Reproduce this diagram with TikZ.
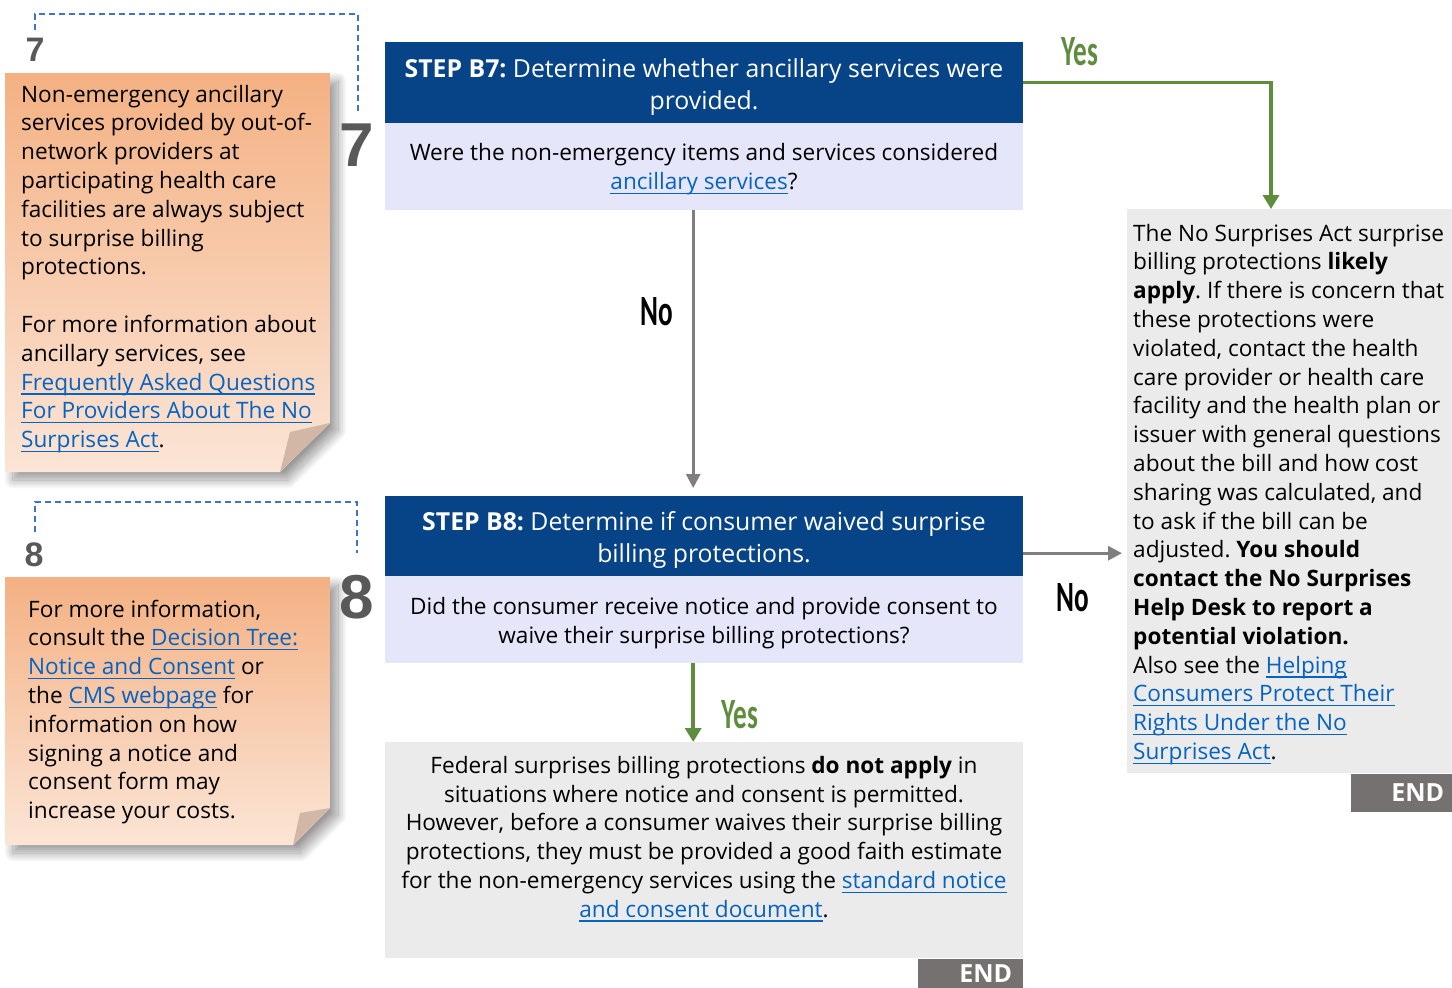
\documentclass[tikz,border=0pt]{standalone}
\usepackage{fontspec}
\setmainfont{Open Sans}
\newfontfamily\condfont{Carlito}
\newfontfamily\numfont{Liberation Sans}
\usetikzlibrary{arrows.meta,shadows.blur}
\definecolor{hdrblue}{HTML}{074387}
\definecolor{lav}{HTML}{E6E6FA}
\definecolor{endgray}{HTML}{767171}
\definecolor{boxgray}{HTML}{EBEBEB}
\definecolor{lnkblue}{HTML}{0563C1}
\definecolor{arrgray}{HTML}{7F7F7F}
\definecolor{yesgreen}{HTML}{5E8D3E}
\definecolor{dashblue}{HTML}{4472C4}
\definecolor{numgray}{HTML}{595959}
\definecolor{ortop}{HTML}{F4B183}
\definecolor{orbot}{HTML}{FBE5D6}
\definecolor{foldc}{HTML}{D2B7A6}
\newsavebox{\lnkbox}
\newcommand{\lnk}[1]{\leavevmode{\color{lnkblue}\sbox{\lnkbox}{#1}\rlap{\rule[-4.5pt]{\wd\lnkbox}{1.4pt}}\usebox{\lnkbox}}}
\frenchspacing
\begin{document}
\begin{tikzpicture}[x=1pt,y=-1pt,
  bodyfont/.style={font=\fontsize{22.6}{28.8}\selectfont},
  hdrbox/.style={fill=hdrblue, inner sep=0pt, anchor=north west, minimum width=638pt, minimum height=#1},
  hdrtext/.style={text=white, align=center, font=\fontsize{24.8}{31.5}\selectfont, inner sep=0pt},
  lavbox/.style={fill=lav, inner sep=0pt, anchor=north west, minimum width=638pt, minimum height=#1},
  ctext/.style={bodyfont, align=center, inner sep=0pt},
  endbox/.style={fill=endgray, inner sep=0pt, anchor=north east},
  endtxt/.style={text=white, font=\fontsize{25}{25}\selectfont\bfseries, inner sep=0pt, anchor=east},
  ansyes/.style={text=yesgreen, inner sep=0pt, font=\fontsize{40}{40}\selectfont\condfont\bfseries},
  ansno/.style={text=black, inner sep=0pt, font=\fontsize{40}{40}\selectfont\condfont\bfseries},
  grayarr/.style={draw=arrgray, line width=3pt, -{Triangle[length=14pt,width=14pt]}},
  greenarr/.style={draw=yesgreen, line width=3.5pt, -{Triangle[length=14pt,width=16pt]}},
  dashln/.style={draw=dashblue, line width=2pt, dash pattern=on 6pt off 4pt},
  notebody/.style={top color=ortop, bottom color=orbot,
    blur shadow={shadow xshift=8pt, shadow yshift=-8pt, shadow blur radius=9pt,
      shadow blur steps=24, shadow opacity=40}},
  notefold/.style={fill=foldc},
  bignum/.style={text=numgray, inner sep=0pt, font=\numfont\bfseries\fontsize{62}{62}\selectfont},
  smallnum/.style={text=numgray, inner sep=0pt, font=\numfont\bfseries\fontsize{34}{34}\selectfont},
  notetext/.style={bodyfont, align=left, inner sep=0pt, anchor=west}
]
\useasboundingbox (0,0) rectangle (1452,988);

% ---------- main column ----------
\node[hdrbox=81pt] (b7h) at (385,42) {};
\node[hdrtext] (b7ht) at (704,87) {\textbf{STEP B7:} Determine whether ancillary services were\\provided.};
\node[lavbox=87pt] (b7l) at (385,123) {};
\node[ctext] (b7lt) at (704,169.5) {Were the non-emergency items and services considered\\\lnk{ancillary services}?};

\node[hdrbox=80pt] (b8h) at (385,496) {};
\node[hdrtext] (b8ht) at (704,540) {\textbf{STEP B8:} Determine if consumer waived surprise\\billing protections.};
\node[lavbox=87pt] (b8l) at (385,576) {};
\node[ctext] (b8lt) at (704,623) {Did the consumer receive notice and provide consent to\\waive their surprise billing protections?};

\node[fill=boxgray, inner sep=0pt, anchor=north west, minimum width=638pt, minimum height=216pt] (bot) at (385,742) {};
\node[ctext] (bottxt) at (704,839) {Federal surprises billing protections \textbf{do not apply} in\\
situations where notice and consent is permitted.\\
However, before a consumer waives their surprise billing\\
protections, they must be provided a good faith estimate\\
for the non-emergency services using the \lnk{standard notice}\\
\lnk{and consent document}.};
\node[endbox, minimum width=105pt, minimum height=30pt] (end1) at (bot.south east) {};
\node[endtxt] (end1t) at ([xshift=-11pt]end1.east) {END};

% ---------- right box ----------
\node[fill=boxgray, inner sep=0pt, anchor=north west, minimum width=325pt, minimum height=564pt] (rt) at (1127,209) {};
\node[notetext] (rttxt) at (1133,494.5) {%
The No Surprises Act surprise\\
billing protections \textbf{likely}\\
\textbf{apply}. If there is concern that\\
these protections were\\
violated, contact the health\\
care provider or health care\\
facility and the health plan or\\
issuer with general questions\\
about the bill and how cost\\
sharing was calculated, and\\
to ask if the bill can be\\
adjusted. \textbf{You should}\\
\textbf{contact the No Surprises}\\
\textbf{Help Desk to report a}\\
\textbf{potential violation.}\\
Also see the \lnk{Helping}\\
\lnk{Consumers Protect Their}\\
\lnk{Rights Under the No}\\
\lnk{Surprises Act}.};
\node[endbox, minimum width=101pt, minimum height=38pt] (end2) at (rt.south east) {};
\node[endtxt] (end2t) at ([xshift=-8pt]end2.east) {END};

% ---------- connectors ----------
\coordinate (yescorner) at (1271,209);
\draw[greenarr] (b7h.east) -| (yescorner);
\node[ansyes] (yes1) at (1080,52) {\scalebox{0.68}[1.08]{Yes}};

\draw[grayarr, shorten >=8pt] ([xshift=-11pt]b7l.south) -- ([xshift=-11pt]b8h.north);
\node[ansno] (no1) at (657,312) {\scalebox{0.68}[1.08]{No}};

\draw[greenarr] ([xshift=-11pt]b8l.south) -- ([xshift=-11pt]bot.north);
\node[ansyes] (yes2) at (740,715) {\scalebox{0.68}[1.08]{Yes}};

\coordinate (nostart) at ([yshift=-17pt]b8h.east);
\draw[grayarr, shorten >=5pt] (nostart) -- (nostart -| rt.west);
\node[ansno] (no2) at (1073,598) {\scalebox{0.68}[1.08]{No}};

% ---------- note 7 ----------
\path[notebody] (5,73) -- (330,73) -- (330,423) -- (280,472) -- (5,472) -- cycle;
\path[notefold] (330,423) -- (290,432) -- (280,472) -- cycle;
\node[notetext] (n7) at (21,269) {Non-emergency ancillary\\
services provided by out-of-\\
network providers at\\
participating health care\\
facilities are always subject\\
to surprise billing\\
protections.\\[28.8pt]
For more information about\\
ancillary services, see\\
\lnk{Frequently Asked Questions}\\
\lnk{For Providers About The No}\\
\lnk{Surprises Act}.};
\node[smallnum] (s7) at (35,50) {7};
\node[bignum] (g7) at (357,145) {7};
\draw[dashln] (35,30) -- (35,14) -- (358,14) -- (358,113);

% ---------- note 8 ----------
\path[notebody] (5,577) -- (330,577) -- (330,808) -- (293,845) -- (5,845) -- cycle;
\path[notefold] (330,808) -- (300,813) -- (293,845) -- cycle;
\node[notetext] (n8) at (28,712) {For more information,\\
consult the \lnk{Decision Tree:}\\
\lnk{Notice and Consent} or\\
the \lnk{CMS webpage} for\\
information on how\\
signing a notice and\\
consent form may\\
increase your costs.};
\node[smallnum] (s8) at (34,555) {8};
\node[bignum] (g8) at (357,597) {8};
\draw[dashln] (35,532) -- (35,502) -- (357,502) -- (357,553);
\end{tikzpicture}
\end{document}
